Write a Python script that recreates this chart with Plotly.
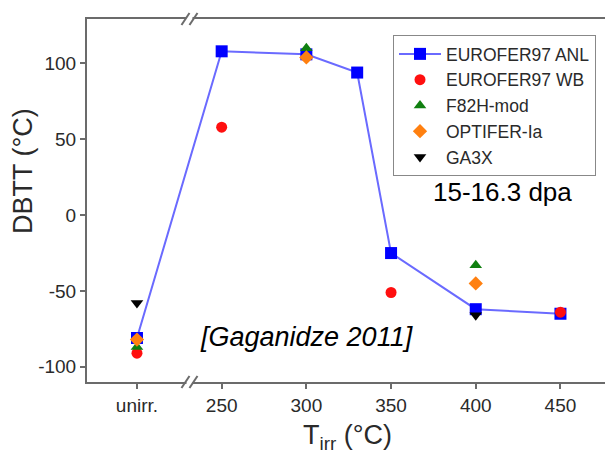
import plotly.graph_objects as go

# x position 200 represents the "unirr." (unirradiated) category
x_ticks = [200, 250, 300, 350, 400, 450]
x_ticktext = ["unirr.", "250", "300", "350", "400", "450"]
y_ticks = [-100, -50, 0, 50, 100]
y_ticktext = ["-100", "-50", "0", "50", "100"]

anl_x = [200, 250, 300, 330, 350, 400, 450]
anl_y = [-81, 108, 106, 94, -25, -62, -65]

wb_x = [200, 250, 350, 450]
wb_y = [-91, 58, -51, -64]

f82h_x = [200, 300, 400]
f82h_y = [-87, 110, -33]

opt_x = [200, 300, 400]
opt_y = [-82, 104, -45]

ga3x_x = [200, 400]
ga3x_y = [-58, -66]

FONT = "Arial, Liberation Sans, sans-serif"
AX = "#6b6b6b"
TXT = "#2a2a2a"

# plot area in pixels
L, R, T, B = 87, 605, 19, 382
PW, PH = R - L, B - T


def px(xp, yp):
    return (xp - L) / PW, (B - yp) / PH


fig = go.Figure()
fig.add_trace(go.Scatter(x=anl_x, y=anl_y, mode="lines+markers", name="EUROFER97 ANL",
                         line=dict(color="#6a6aff", width=2),
                         marker=dict(symbol="square", size=12, color="#0000ff")))
fig.add_trace(go.Scatter(x=wb_x, y=wb_y, mode="markers", name="EUROFER97 WB",
                         marker=dict(symbol="circle", size=11, color="#ff0f0f")))
fig.add_trace(go.Scatter(x=f82h_x, y=f82h_y, mode="markers", name="F82H-mod",
                         marker=dict(symbol="triangle-up", size=11, color="#108010")))
fig.add_trace(go.Scatter(x=opt_x, y=opt_y, mode="markers", name="OPTIFER-Ia",
                         marker=dict(symbol="diamond", size=11, color="#ff8010")))
fig.add_trace(go.Scatter(x=ga3x_x, y=ga3x_y, mode="markers", name="GA3X",
                         marker=dict(symbol="triangle-down", size=11, color="#000000")))

# axis break marks
shapes = []
for yp in (0, 1):
    shapes.append(dict(type="rect", xref="x", yref="paper", xsizemode="pixel", ysizemode="pixel",
                       xanchor=231, yanchor=yp, x0=-3, x1=3, y0=-2, y1=2,
                       fillcolor="white", line=dict(width=0), layer="above"))
    for dx in (-4, 4):
        shapes.append(dict(type="line", xref="x", yref="paper", xsizemode="pixel", ysizemode="pixel",
                           xanchor=231, yanchor=yp, x0=dx - 4, x1=dx + 4, y0=-6, y1=6,
                           line=dict(color=AX, width=2), layer="above"))

lx, ly = px(393, 35)
ytx, yty = px(23, 171)
xtx, xty = px(347, 437)

fig.update_layout(
    width=605, height=458,
    margin=dict(l=L, r=605 - R, t=T, b=458 - B),
    paper_bgcolor="white", plot_bgcolor="white",
    font=dict(family=FONT, color=TXT),
    showlegend=True,
    legend=dict(x=lx, y=ly, xanchor="left", yanchor="top",
                bordercolor="#888888", borderwidth=1, bgcolor="white",
                font=dict(size=17.5, color=TXT, family=FONT),
                tracegroupgap=0, itemwidth=42),
    xaxis=dict(range=[170.5, 476.3], tickvals=x_ticks, ticktext=x_ticktext,
               showgrid=False, zeroline=False, showline=True, linecolor=AX, linewidth=2,
               mirror=True, ticks="outside", ticklen=5, tickcolor=AX, tickwidth=1.5,
               tickfont=dict(size=19, color=TXT)),
    yaxis=dict(range=[-110, 129.3], tickvals=y_ticks, ticktext=y_ticktext,
               showgrid=False, zeroline=False, showline=True, linecolor=AX, linewidth=2,
               ticks="outside", ticklen=5, tickcolor=AX, tickwidth=1.5,
               tickfont=dict(size=19, color=TXT)),
    shapes=shapes,
    annotations=[
        dict(x=415.5, y=15.3, xref="x", yref="y", text="15-16.3 dpa", showarrow=False,
             xanchor="center", yanchor="middle", font=dict(size=26, color="#000000")),
        dict(x=300.5, y=-80.3, xref="x", yref="y", text="<i>[Gaganidze 2011]</i>", showarrow=False,
             xanchor="center", yanchor="middle", font=dict(size=27, color="#000000")),
        dict(x=ytx, y=yty, xref="paper", yref="paper", text="DBTT (°C)", showarrow=False,
             xanchor="center", yanchor="middle", textangle=-90, font=dict(size=27, color=TXT)),
        dict(x=xtx, y=xty, xref="paper", yref="paper", text="T<sub>irr</sub> (°C)", showarrow=False,
             xanchor="center", yanchor="middle", font=dict(size=27, color=TXT)),
    ],
)

fig.write_html("out.html")
